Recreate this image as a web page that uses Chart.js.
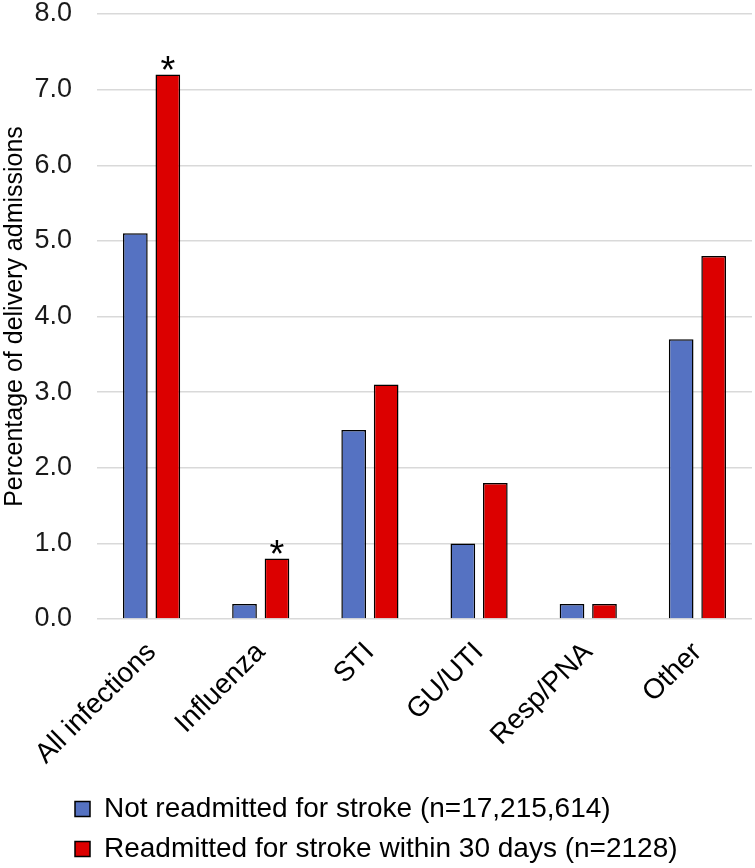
<!DOCTYPE html>
<html>
<head>
<meta charset="utf-8">
<script src="https://cdn.jsdelivr.net/npm/chart.js@4/dist/chart.umd.min.js"></script>
<style>
  html, body { margin: 0; padding: 0; background: #ffffff; }
  #wrap { width: 755px; height: 868px; }
</style>
</head>
<body>
<div id="wrap"><canvas id="infectionChart"></canvas></div>
<script>
const categories = ['All infections', 'Influenza', 'STI', 'GU/UTI', 'Resp/PNA', 'Other'];
const notReadmitted = [5.1, 0.2, 2.5, 1.0, 0.2, 3.7];
const readmitted = [7.2, 0.8, 3.1, 1.8, 0.2, 4.8];
// asterisk marks on the readmitted series
const significant = [true, true, false, false, false, false];
const seriesNames = ['Not readmitted for stroke (n=17,215,614)', 'Readmitted for stroke within 30 days (n=2128)'];

const fontFamily = "'Liberation Sans', Arial, sans-serif";

// draws the * above significant bars
const asteriskPlugin = {
    id: 'asterisks',
    afterDatasetsDraw(chart) {
        const meta = chart.getDatasetMeta(1);
        const ctx = chart.ctx;
        ctx.save();
        ctx.fillStyle = '#000000';
        ctx.font = '38px ' + fontFamily;
        ctx.textAlign = 'center';
        ctx.textBaseline = 'alphabetic';
        meta.data.forEach(function(bar, i) {
            if (significant[i]) {
                ctx.fillText('*', bar.x, bar.y + 8);
            }
        });
        ctx.restore();
    }
};

// push the legend rows to the left like the original
const legendShift = {
    id: 'legendShift',
    afterLayout(chart) {
        chart.legend.left += 63;
    }
};

const ctx = document.getElementById('infectionChart').getContext('2d');
const infectionChart = new Chart(ctx, {
    type: 'bar',
    data: {
        labels: categories,
        datasets: [{
            label: seriesNames[0],
            data: notReadmitted,
            backgroundColor: '#5572C2',
            borderColor: '#000000',
            borderWidth: 1.5,
            barPercentage: 0.76,
            categoryPercentage: 0.595
        }, {
            label: seriesNames[1],
            data: readmitted,
            backgroundColor: '#DC0000',
            borderColor: '#000000',
            borderWidth: 1.5,
            barPercentage: 0.76,
            categoryPercentage: 0.595
        }]
    },
    options: {
        responsive: true,
        maintainAspectRatio: false,
        animation: false,
        layout: {
            padding: { top: 0, right: 3, bottom: -5, left: 0 }
        },
        scales: {
            y: {
                min: 0,
                max: 8,
                ticks: {
                    stepSize: 1,
                    color: '#1a1a1a',
                    padding: 25,
                    font: { family: fontFamily, size: 27 },
                    callback: function(value) {
                        return value.toFixed(1);
                    }
                },
                grid: {
                    color: '#d9d9d9',
                    lineWidth: 1.5,
                    drawTicks: false
                },
                border: { display: false },
                title: {
                    display: true,
                    text: 'Percentage of delivery admissions',
                    color: '#000000',
                    padding: { top: 0, bottom: 4 },
                    font: { family: fontFamily, size: 25 }
                },
                afterFit: function(scale) {
                    scale.width = 97;
                    scale.paddingTop = 14;
                }
            },
            x: {
                grid: { display: false },
                border: { display: false },
                ticks: {
                    color: '#000000',
                    minRotation: 45,
                    maxRotation: 45,
                    autoSkip: false,
                    padding: 9,
                    font: { family: fontFamily, size: 28 }
                },
                afterFit: function(scale) {
                    scale.height = 164;
                }
            }
        },
        plugins: {
            legend: {
                position: 'bottom',
                align: 'start',
                labels: {
                    color: '#000000',
                    boxWidth: 15,
                    boxHeight: 15,
                    padding: 12,
                    font: { family: fontFamily, size: 28 }
                }
            },
            tooltip: { enabled: false }
        }
    },
    plugins: [asteriskPlugin, legendShift]
});
</script>
</body>
</html>
